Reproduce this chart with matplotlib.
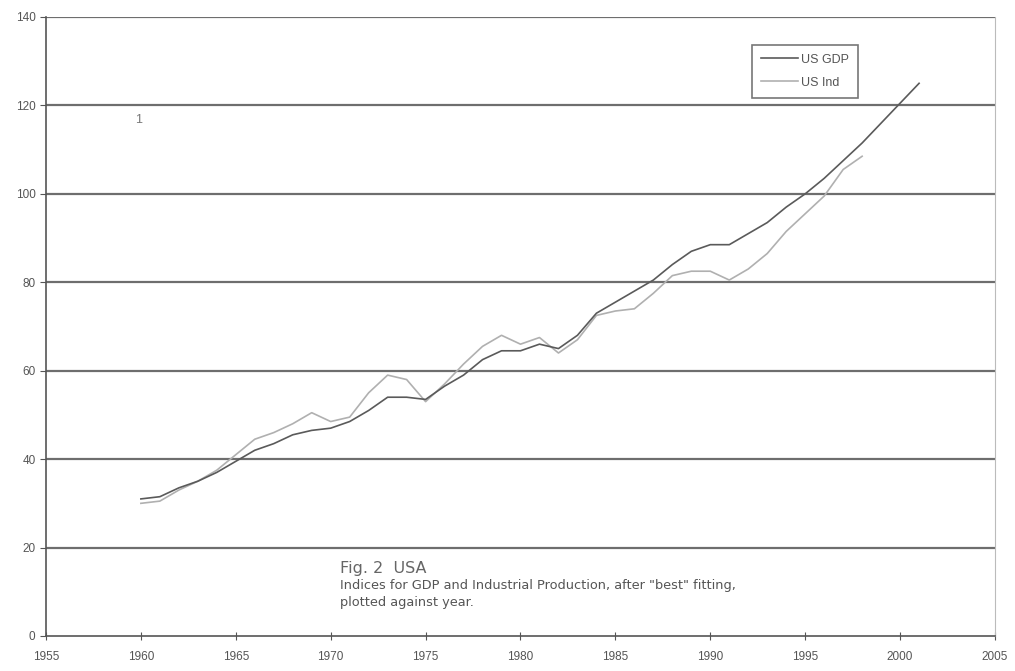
import matplotlib
matplotlib.use("Agg")
import matplotlib.pyplot as plt

plt.rcParams['font.family'] = ['Liberation Sans', 'DejaVu Sans']

gdp_years = list(range(1960, 2002))
gdp_values = [31, 31.5, 33.5, 35, 37, 39.5, 42, 43.5, 45.5, 46.5,
              47, 48.5, 51, 54, 54, 53.5, 56.5, 59, 62.5, 64.5,
              64.5, 66, 65, 68, 73, 75.5, 78, 80.5, 84, 87,
              88.5, 88.5, 91, 93.5, 97, 100, 103.5, 107.5, 111.5, 116,
              120.5, 125]

ind_years = list(range(1960, 1999))
ind_values = [30, 30.5, 33, 35, 37.5, 41, 44.5, 46, 48, 50.5,
              48.5, 49.5, 55, 59, 58, 53, 57, 61.5, 65.5, 68,
              66, 67.5, 64, 67, 72.5, 73.5, 74, 77.5, 81.5, 82.5,
              82.5, 80.5, 83, 86.5, 91.5, 95.5, 99.5, 105.5, 108.5]

x_ticks = list(range(1955, 2006, 5))
y_ticks = list(range(0, 141, 20))

fig = plt.figure(figsize=(10.15, 6.71), dpi=100)
ax = fig.add_axes([0.0453, 0.0522, 0.9350, 0.9225])

for y in y_ticks[1:]:
    ax.axhline(y, color='#6e6e6e', lw=1.6, zorder=1)

ax.plot(gdp_years, gdp_values, color='#5a5a5a', lw=1.2, label='US GDP', zorder=3)
ax.plot(ind_years, ind_values, color='#b0b0b0', lw=1.2, label='US Ind', zorder=2)

ax.set_xlim(1955, 2005)
ax.set_ylim(0, 140)
ax.set_xticks(x_ticks)
ax.set_yticks(y_ticks)
ax.tick_params(axis='both', labelsize=8.5, colors='#555555', length=4, width=0.8)
ax.tick_params(axis='x', direction='inout', length=6, pad=8)

for s in ['left', 'bottom']:
    ax.spines[s].set_color('#555555')
    ax.spines[s].set_linewidth(1.2)
ax.spines['top'].set_visible(False)
ax.spines['right'].set_color('#bbbbbb')
ax.spines['right'].set_linewidth(0.8)

leg = ax.legend(loc='upper left', bbox_to_anchor=(0.744, 0.955), fontsize=9,
                frameon=True, fancybox=False, handlelength=3.0,
                borderpad=0.7, labelspacing=0.9, handletextpad=0.2,
                borderaxespad=0.0)
leg.get_frame().set_edgecolor('#555555')
leg.get_frame().set_linewidth(1.2)
for t in leg.get_texts():
    t.set_color('#555555')

ax.text(1959.7, 116.7, '1', fontsize=9, color='#777777', va='center')
ax.text(1970.5, 15.2, 'Fig. 2  USA', fontsize=11.5, color='#666666', va='center',
        family=['DejaVu Sans'])
ax.text(1970.5, 11.5, 'Indices for GDP and Industrial Production, after "best" fitting,',
        fontsize=9.3, color='#555555', va='center', family=['DejaVu Sans'])
ax.text(1970.5, 7.5, 'plotted against year.', fontsize=9.3, color='#555555', va='center',
        family=['DejaVu Sans'])

fig.savefig('out.png', dpi=100)
